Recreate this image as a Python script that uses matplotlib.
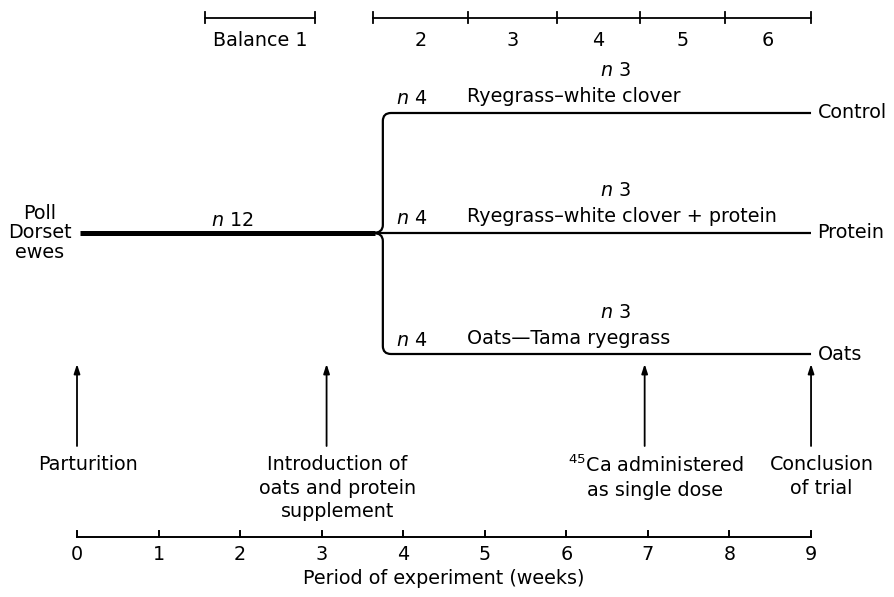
import matplotlib.pyplot as plt
from matplotlib.path import Path
from matplotlib.patches import PathPatch

# weeks of the trial
weeks = [0, 1, 2, 3, 4, 5, 6, 7, 8, 9]

# balance periods (week positions of the bar ends)
balance1 = [1.57, 2.92]
balance_edges = [3.63, 4.80, 5.88, 6.90, 7.95, 9.0]
balance_labels = ['2', '3', '4', '5', '6']

# events along the bottom
event_weeks = [0, 3.06, 6.96, 9.0]
event_labels = ['Parturition',
                'Introduction of\noats and protein\nsupplement',
                r'$^{45}$Ca administered' + '\nas single dose',
                'Conclusion\nof trial']

# treatment groups
groups = ['Control', 'Protein', 'Oats']
diets = ['Ryegrass\u2013white clover',
         'Ryegrass\u2013white clover + protein',
         'Oats\u2014Tama ryegrass']
n_start = 12
n_split = [4, 4, 4]
n_end = [3, 3, 3]
split_week = 3.75
end_week = 9.0

plt.rcParams['font.family'] = ['DejaVu Sans']
plt.rcParams['mathtext.fontset'] = 'dejavusans'
fs = 13.8

fig = plt.figure(figsize=(8.94, 5.97), dpi=100)
ax = fig.add_axes([0, 0, 1, 1])
px = 81.56  # pixels per week
ax.set_xlim(-77 / px, (894 - 77) / px)
ax.set_ylim(597, 0)
ax.axis('off')

# layout rows (vertical positions)
y_bal, y_bal_lab = 18, 41
y_groups = [113, 233, 354]
y_axis = 537

# top balance bars
def bar(edges, y):
    ax.plot([edges[0], edges[-1]], [y, y], color='k', lw=1.3)
    for e in edges:
        ax.plot([e, e], [y - 6, y + 5], color='k', lw=1.3)

bar(balance1, y_bal)
ax.text(sum(balance1) / 2, y_bal_lab, 'Balance 1', ha='center', va='center', fontsize=fs)
bar(balance_edges, y_bal)
for a, b, lab in zip(balance_edges[:-1], balance_edges[1:], balance_labels):
    ax.text((a + b) / 2, y_bal_lab, lab, ha='center', va='center', fontsize=fs)

# main stem
y_mid = y_groups[1]
ax.plot([0.04, split_week - 0.1], [y_mid, y_mid], color='k', lw=3.6, solid_capstyle='butt')
ax.text(-0.46, y_mid, 'Poll\nDorset\newes', ha='center', va='center', fontsize=fs,
        linespacing=1.05)
ax.text(1.9, 220, r'$n$ ' + str(n_start), ha='center', va='center', fontsize=fs)

r = 0.1
ry = 8
for g, y, diet, ns, ne in zip(groups, y_groups, diets, n_split, n_end):
    if y == y_mid:
        verts = [(split_week - 0.12, y), (end_week, y)]
        codes = [Path.MOVETO, Path.LINETO]
    else:
        s = 1 if y < y_mid else -1
        verts = [(split_week - 0.12, y_mid), (split_week, y_mid), (split_week, y_mid - s * ry),
                 (split_week, y + s * ry), (split_week, y), (split_week + r, y),
                 (end_week, y)]
        codes = [Path.MOVETO, Path.CURVE3, Path.CURVE3, Path.LINETO,
                 Path.CURVE3, Path.CURVE3, Path.LINETO]
    ax.add_patch(PathPatch(Path(verts, codes), fill=False, lw=1.6, color='k'))
    ax.text(end_week + 0.08, y, g, ha='left', va='center', fontsize=fs)
    ax.text(4.1, y - 14, r'$n$ ' + str(ns), ha='center', va='center', fontsize=fs)
    ax.text(4.78, y - 16, diet, ha='left', va='center', fontsize=fs)
    ax.text(6.6, y - 42, r'$n$ ' + str(ne), ha='center', va='center', fontsize=fs)

# event arrows
for w, lab in zip(event_weeks, event_labels):
    ax.annotate('', xy=(w, 364), xytext=(w, 446),
                arrowprops=dict(arrowstyle='-|>,head_length=0.55,head_width=0.18',
                                color='k', lw=1.3, shrinkA=0, shrinkB=0))
    ax.text(w + 0.13, 455, lab, ha='center', va='top', fontsize=fs, linespacing=1.3)

# time axis
ax.plot([weeks[0], weeks[-1]], [y_axis, y_axis], color='k', lw=1.4)
for w in weeks:
    ax.plot([w, w], [y_axis, y_axis - 6], color='k', lw=1.4)
    ax.text(w, 555, str(w), ha='center', va='center', fontsize=fs)
ax.text(4.5, 579, 'Period of experiment (weeks)', ha='center', va='center', fontsize=fs)

fig.savefig('out.png', dpi=100)
